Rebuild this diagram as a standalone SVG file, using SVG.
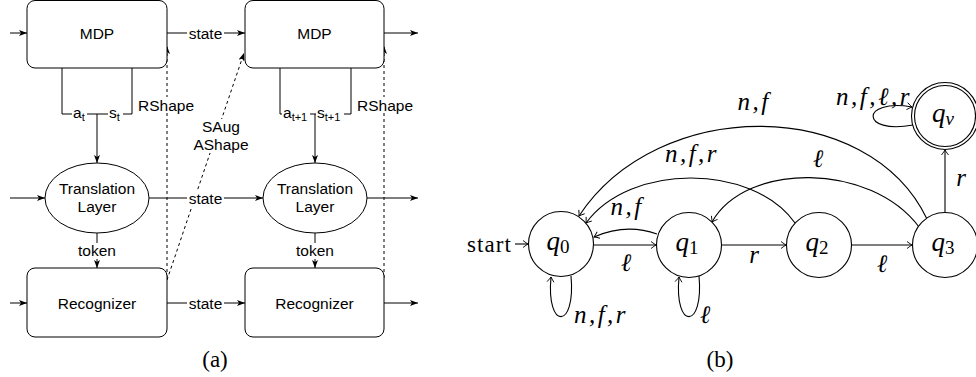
<svg xmlns="http://www.w3.org/2000/svg" width="976" height="377" viewBox="0 0 976 377">
<style>
.box{fill:#fff;stroke:#000;stroke-width:1}
.ln{fill:none;stroke:#000;stroke-width:1}
.dash{fill:none;stroke:#000;stroke-width:1;stroke-dasharray:3 3}
.sans{font-family:"Liberation Sans",Arial,sans-serif;font-size:15.5px;fill:#000}
.bg{fill:#fff}
.st{fill:#fff;stroke:#000;stroke-width:1.1}
.bl{fill:none;stroke:#000;stroke-width:1.1}
.m{font-family:"Liberation Serif","DejaVu Serif",serif;font-style:italic;font-size:25px;fill:#000}
.ls{letter-spacing:2.5px}
.q{font-family:"Liberation Serif","DejaVu Serif",serif;font-style:italic;font-size:27px;fill:#000}
.rm{font-family:"Liberation Serif","DejaVu Serif",serif;font-size:23px;fill:#000}
</style>
<defs>
<marker id="ah" markerUnits="userSpaceOnUse" viewBox="0 0 8 6" refX="8" refY="3" markerWidth="8" markerHeight="6" orient="auto">
<path d="M0,0 L8,3 L0,6 L2,3 z" fill="#000"/>
</marker>
<marker id="oa" markerUnits="userSpaceOnUse" viewBox="-6 -5 7 10" refX="0" refY="0" markerWidth="7" markerHeight="10" orient="auto">
<path d="M-5,-3.5 Q-1.5,-0.8 0,0 Q-1.5,0.8 -5,3.5" fill="none" stroke="#000" stroke-width="0.9"/>
</marker>
</defs>

<!-- (a) connectors -->
<g id="connectors-a">
<line class="ln" x1="10" y1="33" x2="27" y2="33" marker-end="url(#ah)"/>
<line class="ln" x1="10" y1="198" x2="45" y2="198" marker-end="url(#ah)"/>
<line class="ln" x1="10" y1="303" x2="27" y2="303" marker-end="url(#ah)"/>
<line class="ln" x1="167" y1="33" x2="245" y2="33" marker-end="url(#ah)"/>
<line class="ln" x1="149" y1="198" x2="263" y2="198" marker-end="url(#ah)"/>
<line class="ln" x1="167" y1="303" x2="245" y2="303" marker-end="url(#ah)"/>
<line class="ln" x1="384" y1="33" x2="418" y2="33" marker-end="url(#ah)"/>
<line class="ln" x1="367" y1="198" x2="418" y2="198" marker-end="url(#ah)"/>
<line class="ln" x1="384" y1="303" x2="418" y2="303" marker-end="url(#ah)"/>
<path class="ln" d="M62,68 V114 H132 V68"/>
<line class="ln" x1="97" y1="114" x2="97" y2="163" marker-end="url(#ah)"/>
<path class="ln" d="M280,68 V114 H351 V68"/>
<line class="ln" x1="315" y1="114" x2="315" y2="163" marker-end="url(#ah)"/>
<line class="ln" x1="97" y1="233" x2="97" y2="268" marker-end="url(#ah)"/>
<line class="ln" x1="315" y1="233" x2="315" y2="268" marker-end="url(#ah)"/>
<line class="dash" x1="167" y1="278" x2="167" y2="46" marker-end="url(#ah)"/>
<line class="dash" x1="384" y1="278" x2="384" y2="46" marker-end="url(#ah)"/>
<line class="dash" x1="167" y1="280" x2="244" y2="53" marker-end="url(#ah)"/>
<rect class="bg" x="187" y="25" width="37" height="16"/>
<text class="sans" x="205.5" y="38.5" text-anchor="middle">state</text>
<rect class="bg" x="187" y="190" width="37" height="16"/>
<text class="sans" x="205.5" y="203.5" text-anchor="middle">state</text>
<rect class="bg" x="187" y="295" width="37" height="16"/>
<text class="sans" x="205.5" y="308.5" text-anchor="middle">state</text>
<rect class="bg" x="72" y="107" width="15" height="14"/>
<text class="sans" x="73" y="118"><tspan>a</tspan><tspan font-size="11" dy="3">t</tspan></text>
<rect class="bg" x="108" y="107" width="15" height="14"/>
<text class="sans" x="109" y="118"><tspan>s</tspan><tspan font-size="11" dy="3">t</tspan></text>
<rect class="bg" x="282" y="107" width="28" height="14"/>
<text class="sans" x="283" y="118"><tspan>a</tspan><tspan font-size="11" dy="3">t+1</tspan></text>
<rect class="bg" x="316" y="107" width="28" height="14"/>
<text class="sans" x="317" y="118"><tspan>s</tspan><tspan font-size="11" dy="3">t+1</tspan></text>
<rect class="bg" x="77" y="243" width="40" height="16"/>
<text class="sans" x="97" y="256" text-anchor="middle">token</text>
<rect class="bg" x="295" y="243" width="40" height="16"/>
<text class="sans" x="315" y="256" text-anchor="middle">token</text>
<rect class="bg" x="137" y="97" width="58" height="16"/>
<text class="sans" x="166" y="110.5" text-anchor="middle">RShape</text>
<rect class="bg" x="356" y="97" width="58" height="16"/>
<text class="sans" x="385" y="110.5" text-anchor="middle">RShape</text>
<rect class="bg" x="194" y="119" width="56" height="34"/>
<text class="sans" x="221" y="132" text-anchor="middle">SAug</text>
<text class="sans" x="221" y="149.5" text-anchor="middle">AShape</text>
</g>

<!-- (a) nodes -->
<g id="mdp1"><rect class="box" x="27" y="0.5" width="140" height="67.5" rx="8"/><text class="sans" x="97" y="38.5" text-anchor="middle">MDP</text></g>
<g id="mdp2"><rect class="box" x="245" y="0.5" width="139" height="67.5" rx="8"/><text class="sans" x="314.5" y="38.5" text-anchor="middle">MDP</text></g>
<g id="tl1"><ellipse class="box" cx="97" cy="198" rx="52" ry="35"/><text class="sans" x="97" y="193.5" text-anchor="middle">Translation</text><text class="sans" x="97" y="211.5" text-anchor="middle">Layer</text></g>
<g id="tl2"><ellipse class="box" cx="315" cy="198" rx="52" ry="35"/><text class="sans" x="315" y="193.5" text-anchor="middle">Translation</text><text class="sans" x="315" y="211.5" text-anchor="middle">Layer</text></g>
<g id="rec1"><rect class="box" x="27" y="268" width="140" height="69" rx="8"/><text class="sans" x="97" y="308.5" text-anchor="middle">Recognizer</text></g>
<g id="rec2"><rect class="box" x="245" y="268" width="139" height="69" rx="8"/><text class="sans" x="314.5" y="308.5" text-anchor="middle">Recognizer</text></g>
<text class="rm" x="215" y="367" text-anchor="middle">(a)</text>

<!-- (b) connectors -->
<g id="connectors-b">
<line class="bl" x1="515" y1="244" x2="528" y2="244" marker-end="url(#oa)"/>
<line class="bl" x1="594" y1="245" x2="656" y2="245" marker-end="url(#oa)"/>
<path class="bl" d="M657,234 Q626,223 594,237" marker-end="url(#oa)"/>
<line class="bl" x1="722" y1="245" x2="786" y2="245" marker-end="url(#oa)"/>
<line class="bl" x1="852" y1="245" x2="912" y2="245" marker-end="url(#oa)"/>
<line class="bl" x1="945" y1="212" x2="945" y2="150" marker-end="url(#oa)"/>
<path class="bl" d="M927,219 C868,96 658,96 579,216" marker-end="url(#oa)"/>
<path class="bl" d="M795,223 C752,163 630,163 586,223" marker-end="url(#oa)"/>
<path class="bl" d="M919,227 C870,162 746,162 712,222" marker-end="url(#oa)"/>
<path class="bl" d="M571,276 C576,330 546,330 551,277" marker-end="url(#oa)"/>
<path class="bl" d="M699,276 C704,330 674,330 679,277" marker-end="url(#oa)"/>
<path class="bl" d="M913,125 C860,135 860,98 912,107" marker-end="url(#oa)"/>
<text class="rm" x="467" y="252" textLength="44" lengthAdjust="spacing">start</text>
<text class="m ls" x="754" y="110" text-anchor="middle">n,f</text>
<text class="m ls" x="692" y="162" text-anchor="middle">n,f,r</text>
<text class="m" x="818" y="167" text-anchor="middle">ℓ</text>
<text class="m ls" x="627" y="215" text-anchor="middle">n,f</text>
<text class="m" x="626" y="271" text-anchor="middle">ℓ</text>
<text class="m" x="754" y="263" text-anchor="middle">r</text>
<text class="m" x="882" y="272" text-anchor="middle">ℓ</text>
<text class="m" x="961" y="186" text-anchor="middle">r</text>
<text class="m ls" x="874" y="105" text-anchor="middle">n,f,ℓ,r</text>
<text class="m ls" x="601" y="323" text-anchor="middle">n,f,r</text>
<text class="m" x="705" y="323" text-anchor="middle">ℓ</text>
</g>

<!-- (b) nodes -->
<g id="q0"><circle class="st" cx="561" cy="244" r="32.5"/><text class="q" x="558" y="250" text-anchor="middle">q<tspan font-style="normal" font-size="19" dy="3">0</tspan></text></g>
<g id="q1"><circle class="st" cx="689" cy="245" r="32.5"/><text class="q" x="687" y="251" text-anchor="middle">q<tspan font-style="normal" font-size="19" dy="3">1</tspan></text></g>
<g id="q2"><circle class="st" cx="819" cy="245" r="32.5"/><text class="q" x="817" y="251" text-anchor="middle">q<tspan font-style="normal" font-size="19" dy="3">2</tspan></text></g>
<g id="q3"><circle class="st" cx="945" cy="245" r="32.5"/><text class="q" x="943" y="251" text-anchor="middle">q<tspan font-style="normal" font-size="19" dy="3">3</tspan></text></g>
<g id="qv"><circle class="st" cx="945" cy="116" r="33.5"/><circle class="bl" cx="945" cy="116" r="30.5"/><text class="q" x="943" y="122" text-anchor="middle">q<tspan font-size="19" dy="3">v</tspan></text></g>
<text class="rm" x="720" y="367" text-anchor="middle">(b)</text>
</svg>
